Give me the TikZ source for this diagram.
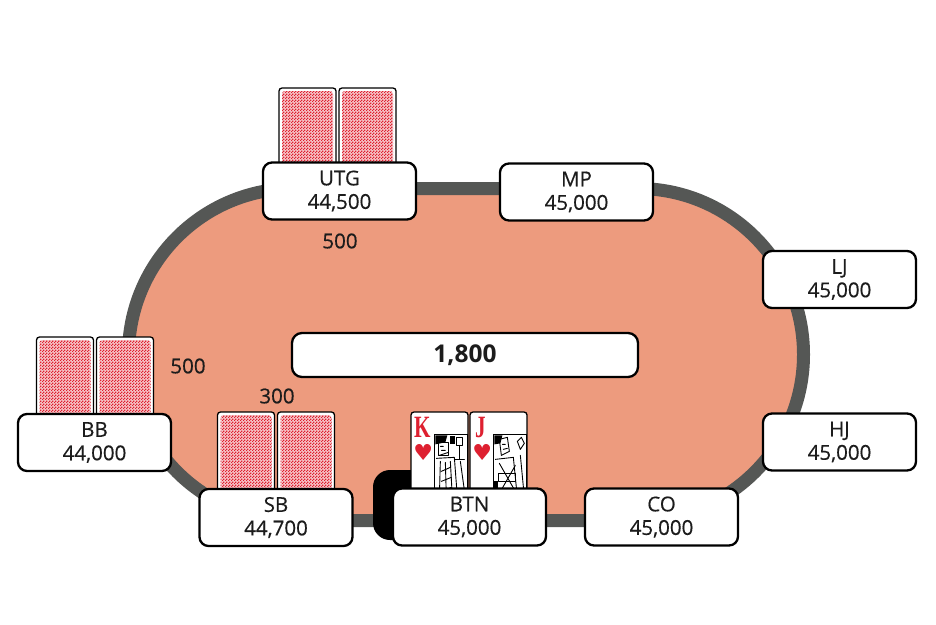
\documentclass[tikz,border=0pt]{standalone}
\usepackage{fontspec}
\setmainfont{Open Sans}
\newfontfamily\seatff{Open Sans}[FakeBold=0.4]
\newfontfamily\cardserif{Liberation Serif}
\newfontfamily\symfont{DejaVu Sans}
\usetikzlibrary{patterns}
\definecolor{felt}{RGB}{237,155,126}
\definecolor{rail}{RGB}{85,87,85}
\definecolor{cardred}{RGB}{222,32,48}
\definecolor{cardpink}{RGB}{246,196,200}
\definecolor{ink}{RGB}{28,28,28}
\newcommand\seatfont{\seatff\fontsize{20.5}{23.5}\selectfont}
\newcommand\potfont{\fontsize{24.5}{27}\selectfont\bfseries}
\pgfdeclarepatternformonly{cardcheck}{\pgfpointorigin}{\pgfqpoint{3pt}{3pt}}{\pgfqpoint{3pt}{3pt}}{%
  \pgfpathrectangle{\pgfpointorigin}{\pgfqpoint{1.6pt}{1.6pt}}%
  \pgfpathrectangle{\pgfqpoint{1.5pt}{1.5pt}}{\pgfqpoint{1.6pt}{1.6pt}}%
  \pgfusepath{fill}}
\begin{document}
\begin{tikzpicture}[x=1pt,y=-1pt,
  seat/.style={draw=black, line width=2.3pt, fill=white, rounded corners=9pt, text=ink,
    minimum width=153pt, minimum height=57pt, align=center, font=\seatfont, inner sep=0pt},
  potbox/.style={draw=black, line width=2.3pt, fill=white, rounded corners=10pt, text=ink,
    minimum width=346pt, minimum height=44pt, font=\potfont, inner sep=0pt},
  bet/.style={font=\seatfont, text=ink, inner sep=0pt},
  cardback/.style={draw=black, line width=1.3pt, fill=white, rounded corners=3pt,
    minimum width=57pt, minimum height=86pt, inner sep=0pt,
    path picture={\fill[cardpink]
      ([shift={(3pt,-3pt)}]path picture bounding box.north west) rectangle
      ([shift={(-3pt,3pt)}]path picture bounding box.south east);
      \fill[pattern=cardcheck, pattern color=cardred]
      ([shift={(3pt,-3pt)}]path picture bounding box.north west) rectangle
      ([shift={(-3pt,3pt)}]path picture bounding box.south east);}},
  facecard/.style={draw=black, line width=1.3pt, fill=white, rounded corners=3pt,
    minimum width=57pt, minimum height=86pt, inner sep=0pt},
  cardletter/.style={text=cardred, inner sep=0pt, font=\cardserif\bfseries\fontsize{31}{31}\selectfont},
  cardsuit/.style={text=cardred, inner sep=0pt, font=\symfont\fontsize{22}{22}\selectfont},
  art/.style={line width=0.9pt, line join=round, line cap=round}
]
\useasboundingbox (0,0) rectangle (936,624);
% table
\draw[line width=13pt, draw=rail, fill=felt, rounded corners=165.9pt]
  (128.5,188.5) rectangle (803.5,520.5);
% card backs
\node[cardback] (utgc1) at (307.5,131) {};
\node[cardback] (utgc2) at (367.5,131) {};
\node[cardback] (bbc1) at (65,380) {};
\node[cardback] (bbc2) at (125,380) {};
\node[cardback] (sbc1) at (246,455) {};
\node[cardback] (sbc2) at (306,455) {};
% dealer button
\node[fill=black, rounded corners=17pt, minimum width=70pt, minimum height=70pt, inner sep=0pt] (dealer) at (408,505) {};
% face cards
\node[facecard] (kc) at (439.5,455) {};
\node[facecard] (jc) at (498.5,455) {};
\begin{scope}[shift={(kc.north west)}]
  \node[cardletter] (kl) at (12,16) {\scalebox{0.68}[1]{K}};
  \node[cardsuit] (kh) at (13,41) {♥};
  \draw[line width=1.1pt, fill=white] (24,23) rectangle (57,86);
  \fill (25,24) -- (37,24) -- (35,31) -- (25,33) -- cycle;
  \draw[art] (28,31) rectangle (38,44);
  \draw[art] (30,35) -- (33,35) (31,39) -- (35,39) (29,44) -- (38,41);
  \fill (40,25) rectangle (45,33);
  \draw[art] (46,26) -- (52,26) -- (52,34) -- (46,34) -- cycle;
  \draw[art] (49,34) -- (49,48) (44,48) -- (54,48);
  \draw[art] (26,47) -- (44,46) -- (47,86);
  \draw[art] (30,50) -- (29,86) (35,51) -- (36,86) (40,50) -- (42,86);
  \draw[art] (31,60) -- (40,56) (31,70) -- (41,66) (31,80) -- (41,76);
  \draw[art] (50,50) -- (55,86);
\end{scope}
\begin{scope}[shift={(jc.north west)}]
  \node[cardletter] (jl) at (11,16) {\scalebox{0.68}[1]{J}};
  \node[cardsuit] (jh) at (13,41) {♥};
  \draw[line width=1.1pt, fill=white] (24,23) rectangle (57,86);
  \fill (25,24) -- (33,24) -- (31,32) -- (25,33) -- cycle;
  \draw[art] (30,28) -- (38,26) -- (40,40) -- (32,44) -- cycle;
  \draw[art] (33,33) -- (36,33) (34,38) -- (38,37);
  \draw[art] (48,30) -- (52,26) -- (55,32) -- (51,38) -- cycle;
  \draw[art] (26,48) -- (44,46) -- (48,86);
  \draw[art] (30,52) -- (46,80) (46,54) -- (30,82);
  \draw[art] (29,62) rectangle (46,70);
  \fill (25,70) rectangle (29,86);
  \draw[art] (51,44) -- (55,86);
\end{scope}
% seats
\node[seat] (utg) at (339.5,191) {UTG\\44,500};
\node[seat] (mp)  at (576.5,192) {MP\\45,000};
\node[seat] (lj)  at (839.5,279.5) {LJ\\45,000};
\node[seat] (hj)  at (839.5,442) {HJ\\45,000};
\node[seat] (co)  at (661.5,517) {CO\\45,000};
\node[seat] (btn) at (469.5,517) {BTN\\45,000};
\node[seat] (sb)  at (276,517.5) {SB\\44,700};
\node[seat] (bb)  at (94.5,442.5) {BB\\44,000};
% pot
\node[potbox] (pot) at (465,355) {1,800};
% bets
\node[bet] (utgbet) at (340,241) {500};
\node[bet] (bbbet) at (188,366) {500};
\node[bet] (sbbet) at (277,396) {300};
\end{tikzpicture}
\end{document}
